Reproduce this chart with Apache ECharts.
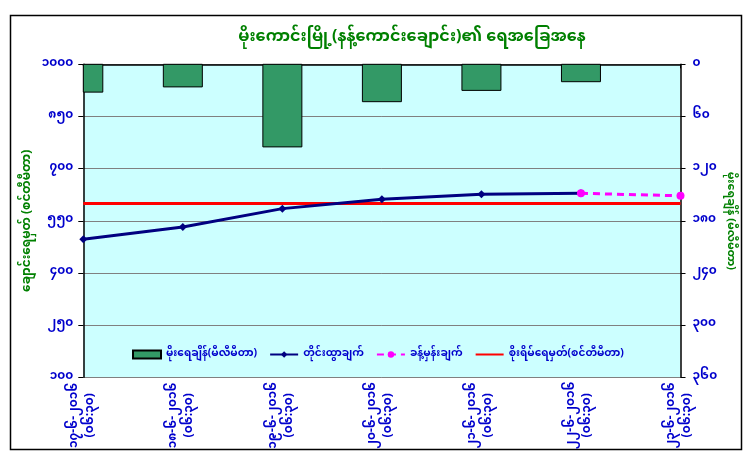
<!DOCTYPE html>
<html>
<head>
<meta charset="utf-8">
<script src="https://cdn.jsdelivr.net/npm/echarts@6/dist/echarts.min.js"></script>
<style>
  html, body { margin: 0; padding: 0; background: #fff; }
  #chart { width: 751px; height: 472px; }
</style>
</head>
<body>
<div id="chart"></div>
<script>
// ရက်စွဲ (x ဝင်ရိုး)
const dates = ["၁၇-၆-၂၀၁၆", "၁၈-၆-၂၀၁၆", "၁၉-၆-၂၀၁၆", "၂၀-၆-၂၀၁၆", "၂၁-၆-၂၀၁၆", "၂၂-၆-၂၀၁၆", "၂၃-၆-၂၀၁၆"];
const times = ["(၀၆:၃၀)", "(၀၆:၃၀)", "(၀၆:၃၀)", "(၀၆:၃၀)", "(၀၆:၃၀)", "(၀၆:၃၀)", "(၀၆:၃၀)"];

// မိုးရေချိန် (mm) - ညာဘက်ဝင်ရိုး
const rainfall = [32, 26, 95, 43, 30, 20, null];
// တိုင်းထွာချက် (cm)
const waterLevel = [497, 532, 585, 612, 626, 629, null];
// ခန့်မှန်းချက်
const forecast = [null, null, null, null, null, 629, 622];
// စိုးရိမ်ရေမှတ်
const dangerLevel = [600, 600, 600, 600, 600, 600, 600];

// ဝင်ရိုးစာတန်းများ
const leftTicks = ["၁၀၀", "၂၅၀", "၄၀၀", "၅၅၀", "၇၀၀", "၈၅၀", "၁၀၀၀"];
const rightTicks = ["၀", "၆၀", "၁၂၀", "၁၈၀", "၂၄၀", "၃၀၀", "၃၆၀"];

const seriesNames = ["မိုးရေချိန်(မီလီမီတာ)", "တိုင်းထွာချက်", "ခန့်မှန်းချက်", "စိုးရိမ်ရေမှတ်(စင်တီမီတာ)"];

const FONT = '"Noto Sans Myanmar", "Padauk", "Myanmar Text", "DejaVu Sans", sans-serif';
const BLUE = "#0000cc";
const GREEN = "#008000";
const BAR_W = 39;

let chart = echarts.init(document.getElementById("chart"));

// ဘားတိုင် - grid အပြင်ဘက်ရောက်သောအပိုင်းကို ဖြတ်ထုတ်
function renderRainBar(params, api) {
  const val = api.value(1);
  if (val == null || isNaN(val)) return null;
  const top = api.coord([api.value(0), 0]);
  const bottom = api.coord([api.value(0), val]);
  const cs = params.coordSys;
  const shape = echarts.graphic.clipRectByRect(
    { x: top[0] - BAR_W / 2, y: top[1], width: BAR_W, height: bottom[1] - top[1] },
    { x: cs.x, y: cs.y, width: cs.width, height: cs.height }
  );
  if (!shape) return null;
  return { type: "rect", shape: shape, style: api.style() };
}

let option = {
  backgroundColor: "#ffffff",
  textStyle: { fontFamily: FONT },
  animation: false,
  title: {
    text: "မိုးကောင်းမြို့(နန့်ကောင်းချောင်း)၏ ရေအခြေအနေ",
    left: 407,
    top: 26,
    textAlign: "center",
    textStyle: { color: GREEN, fontSize: 16, fontWeight: "bold", fontFamily: FONT },
  },
  graphic: [
    {
      type: "rect",
      z: -10,
      shape: { x: 10.5, y: 15.5, width: 731, height: 434 },
      style: { fill: "none", stroke: "#000", lineWidth: 1.5 },
    },
  ],
  legend: {
    left: 127,
    top: 344,
    itemWidth: 28,
    itemHeight: 8,
    itemGap: 12,
    textStyle: { color: BLUE, fontSize: 10.5, fontWeight: "bold", fontFamily: FONT },
    data: [
      { name: seriesNames[0], icon: "rect" },
      seriesNames[1],
      seriesNames[2],
      { name: seriesNames[3], itemStyle: { opacity: 0 } },
    ],
  },
  grid: {
    left: 83.3,
    right: 70.5,
    top: 64.3,
    bottom: 94.7,
    show: true,
    backgroundColor: "#ccffff",
    borderWidth: 0,
  },
  xAxis: {
    type: "category",
    boundaryGap: false,
    data: dates.map((d, i) => d + "\n" + times[i]),
    axisLine: { lineStyle: { color: "#000", width: 1.5 } },
    axisTick: { length: 4, lineStyle: { color: "#000" } },
    axisLabel: {
      rotate: 90,
      align: "center",
      verticalAlign: "middle",
      margin: 38,
      color: BLUE,
      fontSize: 12,
      fontWeight: "bold",
      lineHeight: 16,
      fontFamily: FONT,
    },
    splitLine: { show: false },
  },
  yAxis: [
    {
      type: "value",
      min: 100,
      max: 1000,
      interval: 150,
      name: "ချောင်းရေမှတ် (စင်တီမီတာ)",
      nameLocation: "middle",
      nameGap: 49,
      nameMoveOverlap: false,
      nameTextStyle: { color: GREEN, fontSize: 12, fontWeight: "bold", fontFamily: FONT },
      axisLine: { show: true, lineStyle: { color: "#000", width: 1.5 } },
      axisTick: { show: true, length: 5, lineStyle: { color: "#000" } },
      axisLabel: {
        margin: 10,
        color: BLUE,
        fontSize: 12,
        fontWeight: "bold",
        fontFamily: FONT,
        formatter: (v) => leftTicks[Math.round((v - 100) / 150)],
      },
      splitLine: { show: true, lineStyle: { color: "#808080", width: 1 } },
    },
    {
      type: "value",
      inverse: true,
      min: 0,
      max: 360,
      interval: 60,
      position: "right",
      name: "မိုးရေချိန် (မီလီမီတာ)",
      nameLocation: "middle",
      nameGap: 43,
      nameRotate: -90,
      nameMoveOverlap: false,
      nameTextStyle: { color: GREEN, fontSize: 11, fontWeight: "bold", fontFamily: FONT },
      axisLine: { show: true, lineStyle: { color: "#000", width: 1.5 } },
      axisTick: { show: true, length: 5, lineStyle: { color: "#000" } },
      axisLabel: {
        margin: 12,
        color: BLUE,
        fontSize: 12,
        fontWeight: "bold",
        fontFamily: FONT,
        formatter: (v) => rightTicks[Math.round(v / 60)],
      },
      splitLine: { show: false },
    },
  ],
  series: [
    {
      name: seriesNames[0],
      type: "custom",
      yAxisIndex: 1,
      renderItem: renderRainBar,
      encode: { x: 0, y: 1 },
      itemStyle: { color: "#339966", borderColor: "#000", borderWidth: 1 },
      data: rainfall.map((v, i) => [i, v]),
      z: 2,
    },
    {
      name: seriesNames[1],
      type: "line",
      yAxisIndex: 0,
      symbol: "diamond",
      symbolSize: 8,
      lineStyle: { color: "#000080", width: 3 },
      itemStyle: { color: "#000080" },
      data: waterLevel,
      z: 4,
    },
    {
      name: seriesNames[2],
      type: "line",
      yAxisIndex: 0,
      symbol: "circle",
      symbolSize: 8,
      lineStyle: { color: "#ff00ff", width: 3, type: [7, 5] },
      itemStyle: { color: "#ff00ff" },
      data: forecast,
      z: 5,
    },
    {
      name: seriesNames[3],
      type: "line",
      yAxisIndex: 0,
      symbol: "none",
      lineStyle: { color: "#ff0000", width: 3 },
      itemStyle: { color: "#ff0000" },
      data: dangerLevel,
      z: 3,
    },
  ],
};

chart.setOption(option);
</script>
</body>
</html>
